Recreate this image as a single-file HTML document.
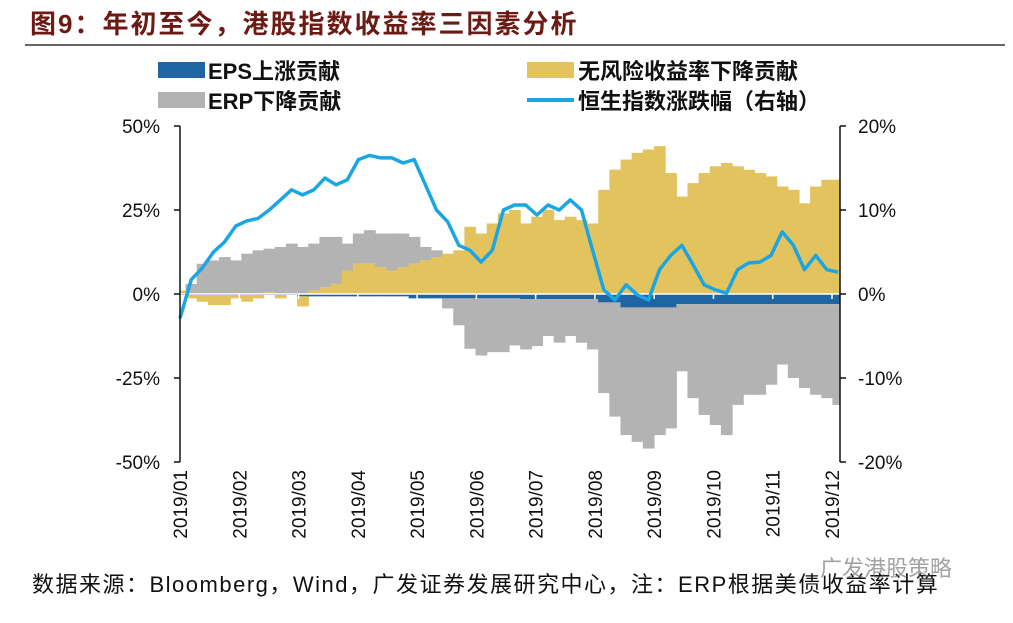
<!DOCTYPE html>
<html><head><meta charset="utf-8"><style>
body{margin:0;background:#fff;width:1013px;height:618px;overflow:hidden;font-family:"Liberation Sans","Noto Sans CJK SC",sans-serif}
</style></head><body>
<svg width="1013" height="618" xmlns="http://www.w3.org/2000/svg">
<text x="30" y="33" font-size="26" font-weight="bold" letter-spacing="2" fill="#6b1a14" font-family="Liberation Sans,Noto Sans CJK SC,sans-serif">图9：年初至今，港股指数收益率三因素分析</text>
<line x1="25" y1="45" x2="1005" y2="45" stroke="#333" stroke-width="1.5"/>
<g font-size="22" font-weight="bold" fill="#111">
<g><rect x="158" y="62" width="47" height="16" fill="#1f65a3"/><text x="208" y="79">EPS上涨贡献</text></g>
<g><rect x="527" y="62" width="47" height="16" fill="#e3c35e"/><text x="578" y="79">无风险收益率下降贡献</text></g>
<g><rect x="158" y="92" width="47" height="16" fill="#b3b3b3"/><text x="208" y="109">ERP下降贡献</text></g>
<g><line x1="527" y1="100" x2="574" y2="100" stroke="#1aa6e3" stroke-width="4"/><text x="578" y="109">恒生指数涨跌幅（右轴）</text></g>
</g>
<g id="plot"></g>
<text x="32" y="592" font-size="22" letter-spacing="1.5" fill="#111">数据来源：Bloomberg，Wind，广发证券发展研究中心，注：ERP根据美债收益率计算</text>
<text x="820" y="576" font-size="22" fill="#666" opacity="0.6">广发港股策略</text>
</svg>
<script>
const months=["2019/01","2019/02","2019/03","2019/04","2019/05","2019/06","2019/07","2019/08","2019/09","2019/10","2019/11","2019/12"];
const leftTicks=[50,25,0,-25,-50];
const rightTicks=[20,10,0,-10,-20];
const hsi=[-2.9,1.7,3.1,5.0,6.2,8.1,8.7,9.0,10.0,11.2,12.4,11.8,12.4,13.8,13.0,13.6,16.0,16.5,16.2,16.2,15.6,16.0,13.0,10.0,8.6,5.8,5.2,3.8,5.2,10.0,10.6,10.6,9.4,10.6,10.0,11.2,10.0,5.2,0.5,-0.7,1.1,-0.1,-0.7,2.9,4.6,5.8,3.5,1.1,0.5,0.1,2.9,3.7,3.8,4.6,7.4,5.8,2.9,4.6,2.9,2.6];
const rf=[1,-1,-2,-3,-3,-1,-2,-1,0.5,-1,0,-3,1,2,3,7,9,9,8,7,8,9,10,11,12,13,20,18,21,24,25,21,23,25,22,23,22,21,31,37,40,42,43,44,36,29,33,36,38,39,38,37,36,35,32,31,27,32,34,34];
const erp=[0,3,9,10,11,10,12,13,13,14,15,14,14,15,14,8,9,10,10,11,10,8,4,2,-3,-8,-15,-17,-16,-16,-14,-15,-14,-11,-13,-11,-13,-15,-27,-34,-38,-40,-42,-38,-36,-20,-28,-33,-36,-39,-30,-27,-27,-24,-18,-22,-25,-27,-28,-30];
const eps=[-0.3,-0.3,-0.3,-0.3,-0.3,-0.3,-0.3,-0.3,-0.3,-0.3,-0.3,-0.7,-0.7,-0.7,-0.7,-0.7,-0.7,-0.7,-0.7,-0.7,-0.7,-1.3,-1.3,-1.3,-1.3,-1.3,-1.3,-1.3,-1.3,-1.3,-1.3,-1.5,-1.5,-1.5,-1.5,-1.5,-1.5,-1.5,-2.5,-2.5,-4,-4,-4,-4,-4,-3,-3,-3,-3,-3,-3,-3,-3,-3,-3,-3,-3,-3,-3,-3];
const NS="http://www.w3.org/2000/svg";
const X0=180,X1=840,Y0=126,Y1=462;
const yL=v=>294-v*(Y1-Y0)/100;
const yR=v=>294-v*(Y1-Y0)/40;
const n=hsi.length, step=(838-180)/(n-1);
const xI=i=>180+i*step;
const plot=document.getElementById('plot');
function mk(t,a){const e=document.createElementNS(NS,t);for(const k in a)e.setAttribute(k,a[k]);plot.appendChild(e);return e;}
for(let i=0;i<n;i++){
  let pos=0,neg=0;
  const x=xI(i)-step/2, w=step+0.6;
  const parts=[[eps[i],'#1f65a3','bar-eps'],[rf[i],'#e3c35e','bar-rf'],[erp[i],'#b3b3b3','bar-erp']];
  for(const [v,c,nm] of parts){
    let a,b;
    if(v>=0){a=pos;b=pos+v;pos=b;}else{a=neg;b=neg+v;neg=b;}
    const r=mk('rect',{x:Math.max(X0,x),y:Math.min(yL(a),yL(b)),width:Math.min(w,X1-Math.max(X0,x)),height:Math.abs(yL(a)-yL(b)),fill:c});
    
    
  }
}
const zl=mk('line',{x1:X0,x2:X1,y1:294,y2:294,stroke:'#fff','stroke-width':1.5});


const mstep=(832-180)/11;
months.forEach((m,k)=>{
  const x=180+k*mstep;
  const tk=mk('line',{x1:x,x2:x,y1:294,y2:299,stroke:'#fff','stroke-width':1.5});
  
  
  const t=mk('text',{x:0,y:0,'font-size':19,fill:'#111','text-anchor':'end',transform:`translate(${x+7},470) rotate(-90)`});
  t.textContent=m;
  
  
});
let d='';hsi.forEach((v,i)=>{d+=(i?'L':'M')+xI(i).toFixed(1)+','+yR(v).toFixed(1);});
const ln=mk('path',{d:d,fill:'none',stroke:'#1aa6e3','stroke-width':3.5,'stroke-linejoin':'round'});


const al=mk('line',{x1:X0,x2:X0,y1:Y0,y2:Y1,stroke:'#111','stroke-width':1.5});


const ar=mk('line',{x1:X1,x2:X1,y1:Y0,y2:Y1,stroke:'#111','stroke-width':1.5});


leftTicks.forEach(v=>{
  const y=yL(v);
  const t=mk('line',{x1:X0-6,x2:X0,y1:y,y2:y,stroke:'#111','stroke-width':1.5});
  
  
  const l=mk('text',{x:160,y:y+7,'font-size':19,fill:'#111','text-anchor':'end'});
  l.textContent=v+'%';
  
  
});
rightTicks.forEach(v=>{
  const y=yR(v);
  const t=mk('line',{x1:X1,x2:X1+6,y1:y,y2:y,stroke:'#111','stroke-width':1.5});
  
  
  const l=mk('text',{x:858,y:y+7,'font-size':19,fill:'#111'});
  l.textContent=v+'%';
  
  
});
</script>
</body></html>
